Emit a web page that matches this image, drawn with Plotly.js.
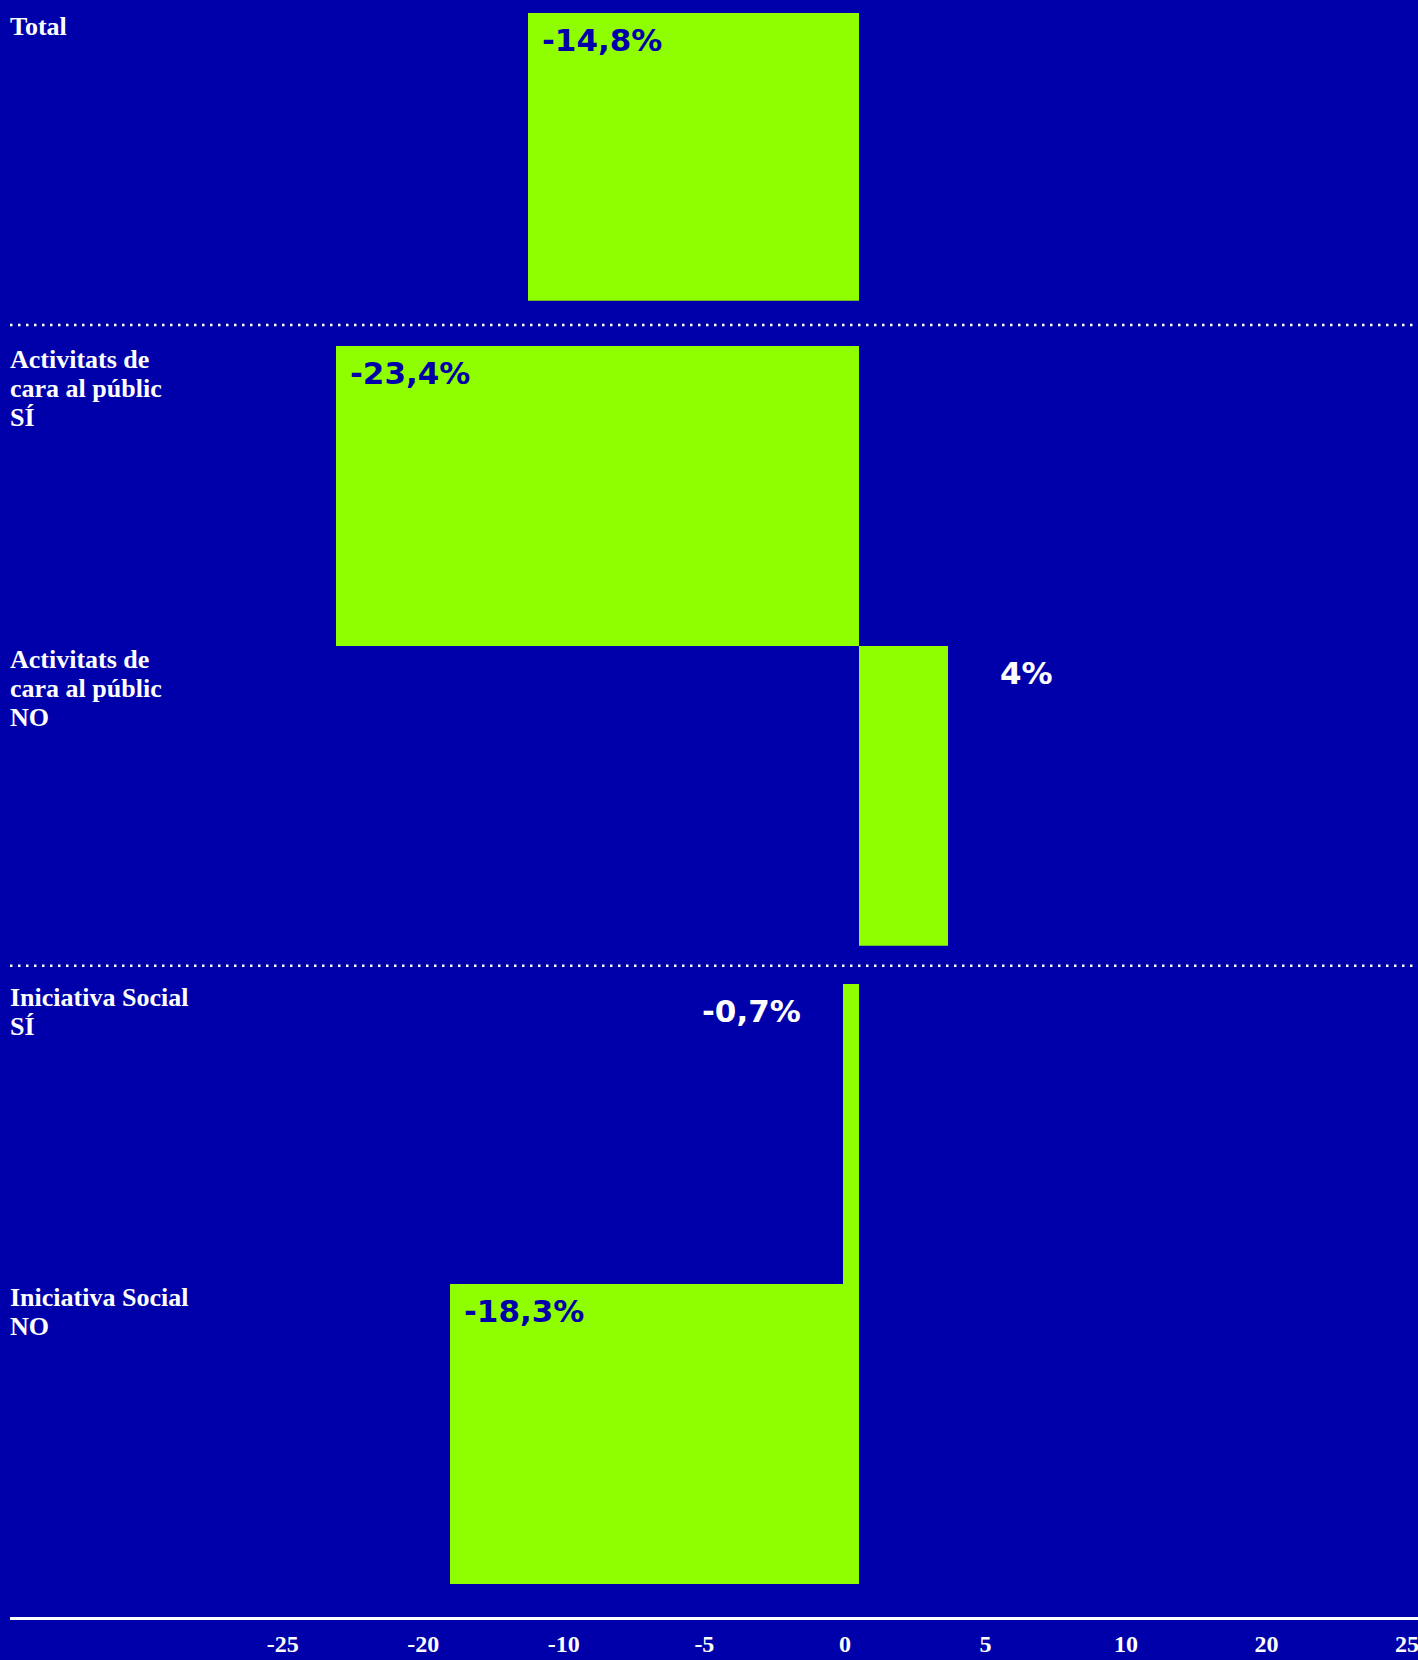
<!DOCTYPE html>
<html>
<head>
<meta charset="utf-8">
<script src="https://cdn.plot.ly/plotly-3.0.1.min.js"></script>
<style>
  html, body { margin: 0; padding: 0; background: #0000AA; }
  #chart { width: 1418px; height: 1660px; }
</style>
</head>
<body>
<div id="chart"></div>
<script>
// ---- Data ----
const categories = [
  'Total',
  'Activitats de<br>cara al públic<br>SÍ',
  'Activitats de<br>cara al públic<br>NO',
  'Iniciativa Social<br>SÍ',
  'Iniciativa Social<br>NO'
];
const groupOf = [0, 1, 1, 2, 2];
const values = [-14.8, -23.4, 4, -0.7, -18.3];
const tickLabels = ['-25', '-20', '-10', '-5', '0', '5', '10', '20', '25'];

// ---- Style ----
const BG = '#0000AA';
const LIME = '#8FFF00';
const WHITE = '#FFFFFF';
const H = 1660;
const serif = 'Liberation Serif';
const wide = 'DejaVu Sans';

const yIds = ['y', 'y2', 'y3'];
const yDomains = [
  [1 - 300.8 / H, 1 - 12.7 / H],
  [1 - 945.7 / H, 1 - 346 / H],
  [1 - 1584.3 / H, 1 - 983.9 / H]
];

function fmt(v) {
  const s = Number.isInteger(v) ? String(v) : v.toFixed(1).replace('.', ',');
  return s + '%';
}

const traces = [];
const annotations = [];
const nGroups = yIds.length;

for (let g = 0; g < nGroups; g++) {
  const idx = [];
  for (let k = 0; k < categories.length; k++) if (groupOf[k] === g) idx.push(k);
  const n = idx.length;
  traces.push({
    type: 'bar',
    orientation: 'h',
    y: idx.map(k => categories[k]),
    x: idx.map(k => values[k]),
    xaxis: 'x',
    yaxis: yIds[g],
    width: 1,
    marker: { color: LIME, line: { width: 0 } },
    hoverinfo: 'skip'
  });
  idx.forEach((k, i) => {
    const yref = yIds[g] + ' domain';
    const yTop = 1 - i / n;
    // category label, line by line
    categories[k].split('<br>').forEach((line, j) => {
      annotations.push({
        xref: 'paper', x: 0, xanchor: 'left', xshift: -2,
        yref: yref, y: yTop, yanchor: 'top',
        yshift: 3 - j * 29,
        text: line, showarrow: false,
        font: { family: serif, size: 26, color: WHITE, weight: 700 }
      });
    });
    // value label
    const v = values[k];
    const inside = Math.abs(v) > 5;
    annotations.push({
      xref: 'x', x: v,
      xanchor: inside ? 'left' : (v < 0 ? 'right' : 'left'),
      xshift: inside ? 12 : (v < 0 ? -40 : 50),
      yref: yref, y: yTop, yanchor: 'middle', yshift: -27,
      text: fmt(v), showarrow: false,
      font: { family: wide, size: 31, color: inside ? BG : WHITE, weight: 700 }
    });
  });
}

// helper trace so the tick-label axis is drawn
traces.push({ type: 'scatter', x: [], y: [], xaxis: 'x2', yaxis: 'y3', hoverinfo: 'skip', showlegend: false });

const layout = {
  width: 1418, height: 1660,
  margin: { l: 10, r: 0, t: 0, b: 0 },
  paper_bgcolor: BG, plot_bgcolor: BG,
  showlegend: false, bargap: 0,
  xaxis: {
    domain: [0, 1], range: [-37.98, 25.02],
    visible: false, fixedrange: true
  },
  xaxis2: {
    overlaying: 'x', anchor: 'free', position: 1 - 1618 / H,
    range: [-1.942, 8.079],
    tickmode: 'array', tickvals: tickLabels.map((_, i) => i), ticktext: tickLabels,
    showgrid: false, zeroline: false,
    showline: true, linecolor: WHITE, linewidth: 3,
    ticks: '', ticklabelstandoff: 3, ticklabeloverflow: 'allow',
    tickfont: { family: serif, size: 24, color: WHITE, weight: 700 },
    fixedrange: true
  },
  shapes: [325, 965.8].map(py => ({
    type: 'line', xref: 'paper', yref: 'paper',
    x0: 0, x1: 1, y0: 1 - py / H, y1: 1 - py / H,
    line: { color: WHITE, width: 2.5, dash: '2.5px,5.5px' }
  })),
  annotations: annotations
};
yIds.forEach((id, g) => {
  const key = g === 0 ? 'yaxis' : 'yaxis' + (g + 1);
  const n = groupOf.filter(x => x === g).length;
  layout[key] = {
    domain: yDomains[g], anchor: 'x', type: 'category',
    range: [n - 0.5, -0.5],
    showticklabels: false, showgrid: false, zeroline: false, showline: false,
    ticks: '', fixedrange: true
  };
});

Plotly.newPlot('chart', traces, layout, { displayModeBar: false, staticPlot: true });
</script>
</body>
</html>
